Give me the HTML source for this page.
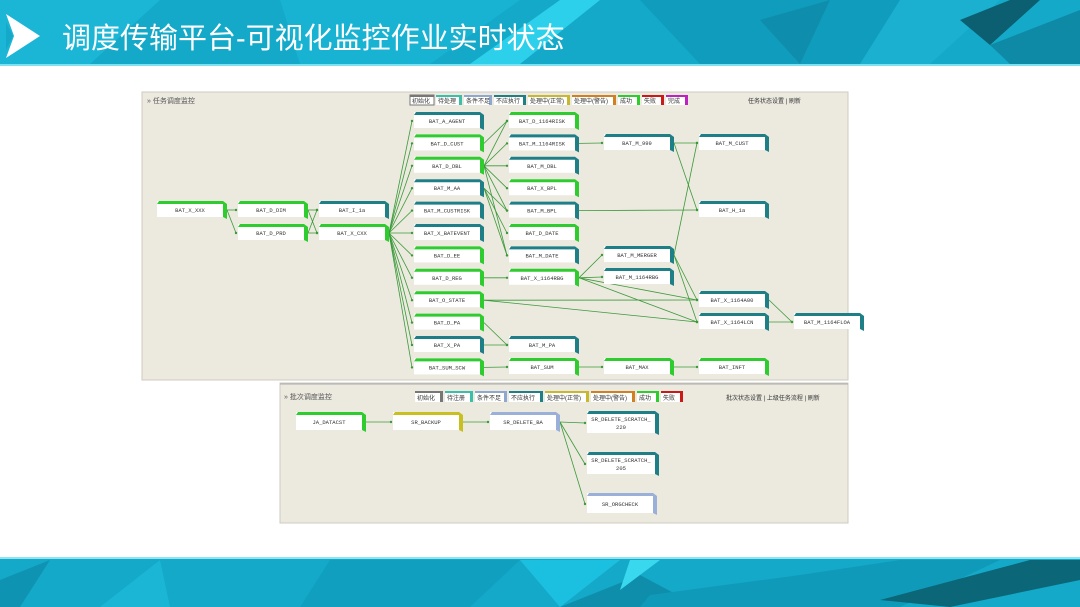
<!DOCTYPE html>
<html><head><meta charset="utf-8">
<style>
html,body{margin:0;padding:0;width:1080px;height:607px;overflow:hidden;background:#fff;}
svg{display:block;font-family:"Liberation Sans","Noto Sans CJK SC",sans-serif;}
</style></head><body>
<svg width="1080" height="607" viewBox="0 0 1080 607" xmlns="http://www.w3.org/2000/svg">
<!-- header -->
<rect x="0" y="0" width="1080" height="64" fill="#14a9c9"/>
<polygon points="0,0 160,0 90,64 0,64" fill="#1bb6d6"/>
<polygon points="280,0 520,0 430,64 300,64" fill="#18b2d2"/>
<polygon points="560,0 600,0 520,64 470,64" fill="#2cd0ea"/>
<polygon points="640,0 900,0 860,64 700,64" fill="#109cbc"/>
<polygon points="760,20 830,0 800,64" fill="#0e8eac"/>
<polygon points="900,0 1000,0 930,64 860,64" fill="#1bb0cf"/>
<polygon points="960,20 1010,0 1040,0 990,45" fill="#0b5f70"/>
<polygon points="990,45 1080,10 1080,64 1010,64" fill="#0f8aa6"/>
<rect x="0" y="64" width="1080" height="2" fill="#7fe0f0"/>
<polygon points="6,14 40,36 6,58 14,36" fill="#fff"/>
<polygon points="6,22 13,36 6,50" fill="#14a9c9"/>
<text x="62" y="48" font-size="29" fill="#fff">调度传输平台-可视化监控作业实时状态</text>
<!-- footer -->
<rect x="0" y="558" width="1080" height="49" fill="#14a9c9"/>
<rect x="0" y="557" width="1080" height="2" fill="#8fe4f2"/>
<polygon points="0,580 50,560 20,607 0,607" fill="#0f93b3"/>
<polygon points="100,607 160,560 170,607" fill="#1bb6d6"/>
<polygon points="330,560 520,560 470,607 300,607" fill="#119fbf"/>
<polygon points="520,560 620,560 560,607" fill="#1bc0e0"/>
<polygon points="560,607 640,575 700,607" fill="#0f8eac"/>
<polygon points="630,560 660,560 620,590" fill="#3ad8ee"/>
<polygon points="650,595 800,575 900,560 1000,560 900,607 640,607" fill="#109ab9"/>
<polygon points="880,600 1030,560 1080,560 1080,580 950,607" fill="#0b6678"/>
<!-- top panel -->
<rect x="142" y="92" width="706" height="288" fill="#ece9df"/>
<rect x="142" y="92" width="706" height="288" fill="none" stroke="#cfcbbf"/>
<text x="147" y="103" font-size="7" fill="#555">» 任务调度监控</text>
<g font-size="6" fill="#333">
<rect x="410" y="95" width="24" height="10" fill="#fff" stroke="#777"/><rect x="410" y="95" width="24" height="2" fill="#777"/><text x="412" y="103">初始化</text>
<rect x="436" y="95" width="24" height="10" fill="#fff"/><rect x="436" y="95" width="26" height="2" fill="#3bbfa8"/><rect x="459" y="95" width="3" height="10" fill="#3bbfa8"/><text x="438" y="103">待处理</text>
<rect x="464" y="95" width="26" height="10" fill="#fff"/><rect x="464" y="95" width="28" height="2" fill="#8fa8d0"/><rect x="489" y="95" width="3" height="10" fill="#8fa8d0"/><text x="466" y="103">条件不足</text>
<rect x="494" y="95" width="30" height="10" fill="#fff"/><rect x="494" y="95" width="32" height="2" fill="#1f7f86"/><rect x="523" y="95" width="3" height="10" fill="#1f7f86"/><text x="496" y="103">不应执行</text>
<rect x="528" y="95" width="40" height="10" fill="#fff"/><rect x="528" y="95" width="42" height="2" fill="#c8b830"/><rect x="567" y="95" width="3" height="10" fill="#c8b830"/><text x="530" y="103">处理中(正常)</text>
<rect x="572" y="95" width="42" height="10" fill="#fff"/><rect x="572" y="95" width="44" height="2" fill="#d08020"/><rect x="613" y="95" width="3" height="10" fill="#d08020"/><text x="574" y="103">处理中(警告)</text>
<rect x="618" y="95" width="20" height="10" fill="#fff"/><rect x="618" y="95" width="22" height="2" fill="#2ecc2e"/><rect x="637" y="95" width="3" height="10" fill="#2ecc2e"/><text x="620" y="103">成功</text>
<rect x="642" y="95" width="20" height="10" fill="#fff"/><rect x="642" y="95" width="22" height="2" fill="#cc1818"/><rect x="661" y="95" width="3" height="10" fill="#cc1818"/><text x="644" y="103">失败</text>
<rect x="666" y="95" width="20" height="10" fill="#fff"/><rect x="666" y="95" width="22" height="2" fill="#c020c0"/><rect x="685" y="95" width="3" height="10" fill="#c020c0"/><text x="668" y="103">完成</text>
<text x="748" y="103">任务状态设置 | 刷新</text>
</g>
<g id="edges" stroke="#3a9a3a" stroke-width="0.8" fill="none"></g>
<g id="nodes"></g>
<!-- bottom panel -->
<rect x="280" y="383" width="568" height="140" fill="#ece9df"/>
<rect x="280" y="383" width="568" height="140" fill="none" stroke="#cfcbbf"/>
<line x1="280" y1="384" x2="848" y2="384" stroke="#aaa"/>
<g font-size="6" fill="#333">
<text x="284" y="399" font-size="7" fill="#555">» 批次调度监控</text>
<rect x="415" y="391" width="26" height="11" fill="#fff"/><rect x="415" y="391" width="28" height="2" fill="#777"/><rect x="440" y="391" width="3" height="11" fill="#777"/><text x="417" y="400">初始化</text>
<rect x="445" y="391" width="26" height="11" fill="#fff"/><rect x="445" y="391" width="28" height="2" fill="#3bbfa8"/><rect x="470" y="391" width="3" height="11" fill="#3bbfa8"/><text x="447" y="400">待注册</text>
<rect x="475" y="391" width="30" height="11" fill="#fff"/><rect x="475" y="391" width="32" height="2" fill="#8fa8d0"/><rect x="504" y="391" width="3" height="11" fill="#8fa8d0"/><text x="477" y="400">条件不足</text>
<rect x="509" y="391" width="32" height="11" fill="#fff"/><rect x="509" y="391" width="34" height="2" fill="#1f7f86"/><rect x="540" y="391" width="3" height="11" fill="#1f7f86"/><text x="511" y="400">不应执行</text>
<rect x="545" y="391" width="42" height="11" fill="#fff"/><rect x="545" y="391" width="44" height="2" fill="#c8b830"/><rect x="586" y="391" width="3" height="11" fill="#c8b830"/><text x="547" y="400">处理中(正常)</text>
<rect x="591" y="391" width="42" height="11" fill="#fff"/><rect x="591" y="391" width="44" height="2" fill="#d08020"/><rect x="632" y="391" width="3" height="11" fill="#d08020"/><text x="593" y="400">处理中(警告)</text>
<rect x="637" y="391" width="20" height="11" fill="#fff"/><rect x="637" y="391" width="22" height="2" fill="#2ecc2e"/><rect x="656" y="391" width="3" height="11" fill="#2ecc2e"/><text x="639" y="400">成功</text>
<rect x="661" y="391" width="20" height="11" fill="#fff"/><rect x="661" y="391" width="22" height="2" fill="#cc1818"/><rect x="680" y="391" width="3" height="11" fill="#cc1818"/><text x="663" y="400">失败</text>
<text x="726" y="400">批次状态设置 | 上级任务流程 | 刷新</text>
</g>
<g id="edges2" stroke="#3a9a3a" stroke-width="0.8" fill="none"></g>
<g id="nodes2"></g>
</svg>
<script>
var G='#2ecc2e',T='#1f7f86',Y='#c8c020',B='#9ab0d8',NS='http://www.w3.org/2000/svg';
function el(p,t,a,txt){var e=document.createElementNS(NS,t);for(var k in a)e.setAttribute(k,a[k]);if(txt!=null)e.textContent=txt;p.appendChild(e);return e;}
var N={},W=66,H=16;
var list=[['x0',157,201,'BAT_X_XXX',G],['dim',238,201,'BAT_D_DIM',G],['prd',238,224,'BAT_D_PRD',G],['i1a',319,201,'BAT_I_1a',T],['cxx',319,224,'BAT_X_CXX',G]];
var c4=[['A_AGENT',T],['D_CUST',G],['D_DBL',G],['M_AA',T],['M_CUSTRISK',T],['X_BATEVENT',T],['D_EE',G],['D_REG',G],['O_STATE',G],['D_PA',G],['X_PA',T],['SUM_SCW',G]];
c4.forEach(function(c,i){list.push([c[0],414,112+i*22.4,'BAT_'+c[0],c[1]]);});
var c5=[['D_1164RISK',G],['M_1164RISK',T],['M_DBL',T],['X_BPL',G],['M_BPL',T],['D_DATE',G],['M_DATE',T],['X_1164RBG',G]];
c5.forEach(function(c,i){list.push([c[0],509,112+i*22.4,'BAT_'+c[0],c[1]]);});
list.push(['M_PA',509,336,'BAT_M_PA',T],['SUM',509,358,'BAT_SUM',G],
['M_999',604,134,'BAT_M_999',T],['M_MERGER',604,246,'BAT_M_MERGER',T],['M_1164RBG',604,268,'BAT_M_1164RBG',T],['MAX',604,358,'BAT_MAX',G],
['M_CUST',699,134,'BAT_M_CUST',T],['H_1a',699,201,'BAT_H_1a',T],['A00',699,291,'BAT_X_1164A00',T],['LCN',699,313,'BAT_X_1164LCN',T],['INFT',699,358,'BAT_INFT',G],
['FLOA',794,313,'BAT_M_1164FLOA',T]);
var ng=document.getElementById('nodes'),eg=document.getElementById('edges');
function node(g,id,x,y,lab,c,w,h){w=w||W;h=h||H;N[id]={x:x,y:y,w:w,h:h};
 el(g,'rect',{x:x,y:y,width:w,height:h,fill:'#fff'});
 el(g,'polygon',{points:[x,y+3,x+2,y,x+w,y,x+w+4,y+3,x+w+4,y+h+2,x+w,y+h,x+w,y+3].join(' '),fill:c});
 var lines=lab.split('\n');
 lines.forEach(function(l,i){el(g,'text',{x:x+w/2,y:y+h/2+3+(i-(lines.length-1)/2)*8,'font-size':5.5,'text-anchor':'middle',fill:'#333','font-family':'Liberation Mono,monospace'},l);});
}
list.forEach(function(n){node(ng,n[0],n[1],n[2],n[3],n[4]);});
function edge(g,a,b){a=N[a];b=N[b];var x1=a.x+a.w+4,y1=a.y+a.h/2+1,x2=b.x-2,y2=b.y+b.h/2+1;
 el(g,'line',{x1:x1,y1:y1,x2:x2,y2:y2});el(g,'circle',{cx:x2,cy:y2,r:1.2,fill:'#3a9a3a',stroke:'none'});}
[['x0','dim'],['x0','prd'],['dim','i1a'],['dim','cxx'],['prd','i1a'],['prd','cxx']].forEach(function(e){edge(eg,e[0],e[1]);});
c4.forEach(function(c){edge(eg,'cxx',c[0]);});
[['D_DBL','D_1164RISK'],['D_DBL','M_1164RISK'],['D_DBL','M_DBL'],['D_DBL','X_BPL'],['D_DBL','M_BPL'],['D_CUST','D_1164RISK'],['M_AA','M_BPL'],['M_AA','D_DATE'],['M_AA','M_DATE'],['D_DBL','M_DATE'],['D_REG','X_1164RBG'],['D_PA','M_PA'],['X_PA','M_PA'],['SUM_SCW','SUM'],['SUM','MAX'],['MAX','INFT'],
['M_1164RISK','M_999'],['M_999','M_CUST'],['M_999','H_1a'],['M_BPL','H_1a'],['M_MERGER','M_CUST'],['M_MERGER','A00'],['M_MERGER','LCN'],['X_1164RBG','M_MERGER'],['X_1164RBG','M_1164RBG'],['X_1164RBG','A00'],['X_1164RBG','LCN'],['O_STATE','A00'],['O_STATE','LCN'],['A00','FLOA'],['LCN','FLOA']].forEach(function(e){edge(eg,e[0],e[1]);});
var ng2=document.getElementById('nodes2'),eg2=document.getElementById('edges2');
node(ng2,'ja',296,412,'JA_DATACST',G,66,18);
node(ng2,'bk',393,412,'SR_BACKUP',Y,66,18);
node(ng2,'del',490,412,'SR_DELETE_BA',B,66,18);
node(ng2,'s220',587,411,'SR_DELETE_SCRATCH_\n220',T,68,22);
node(ng2,'s205',587,452,'SR_DELETE_SCRATCH_\n205',T,68,22);
node(ng2,'org',587,493,'SR_ORGCHECK',B,66,20);
[['ja','bk'],['bk','del'],['del','s220'],['del','s205'],['del','org']].forEach(function(e){edge(eg2,e[0],e[1]);});
</script>
</body></html>
